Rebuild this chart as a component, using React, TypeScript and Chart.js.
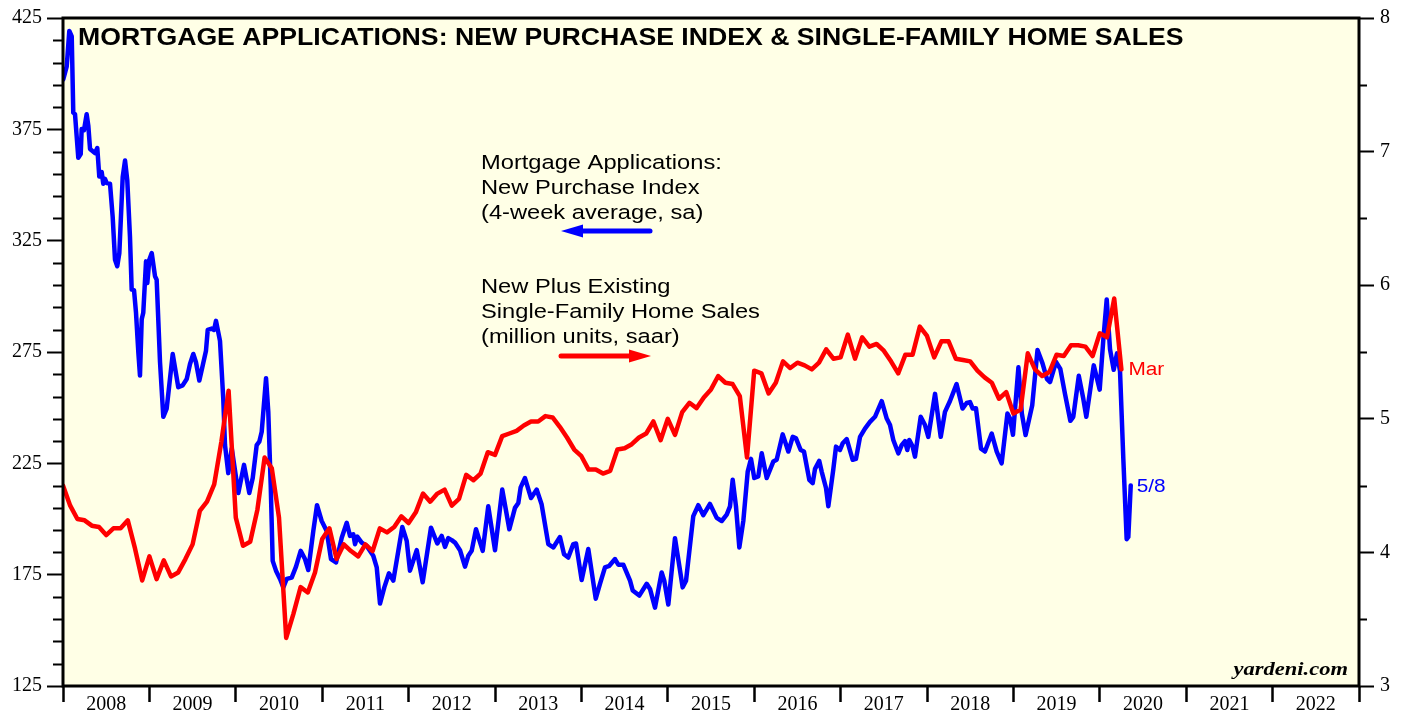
import React, { useEffect, useRef } from 'react';
import { Chart, registerables } from 'chart.js';

Chart.register(...registerables);

// ---------- DATA ----------
const yearLabels = ['2008', '2009', '2010', '2011', '2012', '2013', '2014', '2015', '2016', '2017', '2018', '2019', '2020', '2021', '2022'];
const leftMajorTicks = [125, 175, 225, 275, 325, 375, 425];
const rightMajorTicks = [3, 4, 5, 6, 7, 8];

// New plus existing single-family home sales (million units, saar), monthly from Jan 2008
const homeSalesStart = 2008;
const homeSales = [
  4.50, 4.35, 4.25, 4.24, 4.20, 4.19, 4.13, 4.18, 4.18, 4.24, 4.03, 3.79,
  3.97, 3.80, 3.94, 3.82, 3.85, 3.95, 4.06, 4.31, 4.38, 4.51, 4.83, 5.21,
  4.26, 4.05, 4.08, 4.32, 4.71, 4.63, 4.26, 3.36, 3.54, 3.74, 3.70, 3.85,
  4.10, 4.18, 3.95, 4.06, 4.01, 3.97, 4.06, 4.01, 4.18, 4.15, 4.19, 4.27,
  4.22, 4.30, 4.44, 4.38, 4.44, 4.47, 4.35, 4.40, 4.58, 4.54, 4.59, 4.75,
  4.73, 4.87, 4.89, 4.91, 4.95, 4.98, 4.98, 5.02, 5.01, 4.94, 4.86, 4.77,
  4.72, 4.62, 4.62, 4.59, 4.61, 4.77, 4.78, 4.81, 4.86, 4.89, 4.98, 4.84,
  5.00, 4.88, 5.05, 5.12, 5.08, 5.16, 5.22, 5.32, 5.27, 5.26, 5.17, 4.71,
  5.36, 5.34, 5.19, 5.27, 5.43, 5.38, 5.42, 5.40, 5.37, 5.42, 5.52, 5.45,
  5.46, 5.63, 5.45, 5.61, 5.54, 5.56, 5.51, 5.43, 5.34, 5.48, 5.48, 5.69,
  5.62, 5.46, 5.58, 5.58, 5.45, 5.44, 5.43, 5.36, 5.31, 5.27, 5.15, 5.20,
  5.04, 5.07, 5.49, 5.37, 5.32, 5.35, 5.48, 5.47, 5.55, 5.55, 5.54, 5.47,
  5.64, 5.61, 5.90, 5.37,
];

// Mortgage applications: new purchase index (4-week average, sa) — [decimal year, index]
const mortgageIndex: [number, number][] = [
  [2008.003, 397.4], [2008.043, 403.3], [2008.073, 419.2], [2008.101, 416.7], [2008.119, 382.5], [2008.139, 381.8],
  [2008.177, 362.2], [2008.205, 363.9], [2008.216, 375.1], [2008.243, 374.6], [2008.274, 381.8], [2008.293, 376.6],
  [2008.313, 366.2], [2008.370, 364.3], [2008.397, 366.6], [2008.420, 353.8], [2008.448, 355.8], [2008.466, 350.6],
  [2008.486, 352.8], [2008.506, 350.9], [2008.544, 350.6], [2008.575, 335.7], [2008.602, 316.4], [2008.628, 313.5],
  [2008.652, 319.4], [2008.691, 353.6], [2008.718, 361.0], [2008.744, 352.1], [2008.775, 326.8], [2008.795, 303.0],
  [2008.822, 302.8], [2008.845, 292.6], [2008.872, 274.8], [2008.891, 264.4], [2008.911, 289.7], [2008.929, 292.6],
  [2008.961, 315.7], [2008.976, 306.0], [2008.999, 316.4], [2009.027, 319.4], [2009.065, 309.0], [2009.084, 307.5],
  [2009.123, 270.4], [2009.161, 245.9], [2009.200, 249.6], [2009.270, 274.1], [2009.334, 259.2], [2009.385, 260.0],
  [2009.432, 262.9], [2009.470, 269.6], [2009.508, 274.1], [2009.539, 270.4], [2009.578, 262.2], [2009.617, 268.9],
  [2009.655, 275.6], [2009.675, 284.9], [2009.721, 285.5], [2009.748, 284.9], [2009.771, 289.0], [2009.817, 280.0],
  [2009.855, 254.0], [2009.875, 233.2], [2009.913, 220.6], [2009.953, 231.7], [2010.029, 211.7], [2010.095, 224.3],
  [2010.156, 211.7], [2010.196, 218.4], [2010.242, 233.2], [2010.272, 234.7], [2010.300, 239.2], [2010.350, 263.2],
  [2010.376, 248.1], [2010.404, 215.4], [2010.427, 181.2], [2010.465, 176.8], [2010.512, 173.1], [2010.550, 169.3],
  [2010.589, 173.1], [2010.647, 173.7], [2010.697, 178.6], [2010.751, 185.7], [2010.801, 182.0], [2010.839, 177.1],
  [2010.897, 194.6], [2010.940, 206.2], [2010.994, 199.1], [2011.052, 194.6], [2011.102, 182.0], [2011.160, 180.5],
  [2011.226, 191.6], [2011.284, 198.3], [2011.322, 192.4], [2011.360, 193.1], [2011.380, 188.7], [2011.406, 192.1],
  [2011.457, 189.4], [2011.515, 187.9], [2011.591, 183.5], [2011.631, 178.3], [2011.669, 162.0], [2011.719, 169.3],
  [2011.773, 175.6], [2011.823, 172.3], [2011.881, 185.7], [2011.927, 196.4], [2011.978, 190.2], [2012.016, 176.8],
  [2012.094, 186.0], [2012.163, 171.6], [2012.259, 196.1], [2012.332, 189.0], [2012.383, 192.4], [2012.421, 187.5],
  [2012.459, 191.4], [2012.499, 190.5], [2012.537, 189.4], [2012.595, 186.0], [2012.653, 178.6], [2012.691, 183.5],
  [2012.730, 185.7], [2012.780, 195.4], [2012.858, 185.7], [2012.922, 205.7], [2013.000, 186.0], [2013.084, 213.2],
  [2013.166, 195.4], [2013.231, 205.0], [2013.270, 207.2], [2013.297, 214.2], [2013.347, 218.4], [2013.417, 209.4],
  [2013.483, 213.2], [2013.540, 206.5], [2013.617, 188.7], [2013.675, 187.2], [2013.752, 191.9], [2013.799, 184.2],
  [2013.848, 182.7], [2013.906, 188.7], [2013.938, 189.0], [2014.003, 172.6], [2014.080, 186.5], [2014.166, 164.2],
  [2014.215, 170.9], [2014.273, 178.3], [2014.323, 179.0], [2014.389, 182.0], [2014.427, 179.5], [2014.485, 179.5],
  [2014.563, 172.3], [2014.594, 167.9], [2014.670, 165.6], [2014.756, 170.9], [2014.794, 168.6], [2014.852, 160.2],
  [2014.929, 176.0], [2014.959, 172.3], [2015.006, 161.6], [2015.083, 191.4], [2015.172, 169.3], [2015.211, 172.3],
  [2015.295, 201.3], [2015.353, 206.2], [2015.411, 201.7], [2015.488, 206.8], [2015.566, 200.5], [2015.624, 199.1],
  [2015.682, 202.0], [2015.720, 205.7], [2015.751, 217.6], [2015.789, 205.7], [2015.828, 187.2], [2015.874, 199.1],
  [2015.925, 221.3], [2015.963, 227.0], [2016.001, 218.4], [2016.047, 219.1], [2016.087, 229.5], [2016.145, 218.4],
  [2016.221, 225.8], [2016.260, 226.6], [2016.330, 238.0], [2016.395, 230.3], [2016.446, 236.9], [2016.484, 236.2],
  [2016.538, 231.0], [2016.576, 230.3], [2016.638, 217.6], [2016.677, 216.1], [2016.704, 222.5], [2016.753, 226.1],
  [2016.781, 221.3], [2016.831, 213.9], [2016.858, 205.7], [2016.915, 222.1], [2016.947, 232.5], [2016.993, 231.0],
  [2017.024, 234.0], [2017.071, 235.9], [2017.140, 226.6], [2017.178, 227.0], [2017.225, 236.9], [2017.282, 240.6],
  [2017.340, 243.6], [2017.398, 245.9], [2017.476, 252.9], [2017.534, 245.1], [2017.572, 242.2], [2017.610, 235.5],
  [2017.668, 229.5], [2017.707, 233.2], [2017.745, 235.0], [2017.772, 231.0], [2017.795, 235.5], [2017.834, 232.5],
  [2017.861, 228.0], [2017.927, 245.9], [2017.977, 242.2], [2018.015, 236.9], [2018.093, 256.2], [2018.159, 236.9],
  [2018.208, 248.1], [2018.266, 253.0], [2018.342, 260.6], [2018.411, 249.6], [2018.459, 252.1], [2018.498, 252.5],
  [2018.529, 249.6], [2018.567, 249.7], [2018.625, 231.6], [2018.671, 230.3], [2018.749, 238.4], [2018.807, 230.3],
  [2018.864, 225.0], [2018.931, 247.4], [2018.961, 245.1], [2018.995, 237.8], [2019.058, 268.1], [2019.098, 247.3],
  [2019.141, 237.7], [2019.218, 251.1], [2019.279, 275.9], [2019.337, 269.9], [2019.389, 262.8], [2019.424, 261.5],
  [2019.493, 270.6], [2019.543, 267.4], [2019.597, 256.2], [2019.659, 244.1], [2019.693, 245.9], [2019.757, 264.3],
  [2019.809, 254.0], [2019.844, 245.9], [2019.930, 269.0], [2019.999, 258.1], [2020.041, 280.7], [2020.080, 298.6],
  [2020.118, 276.3], [2020.161, 267.0], [2020.199, 274.4], [2020.234, 266.4], [2020.272, 227.3], [2020.311, 190.9],
  [2020.330, 191.9], [2020.358, 215.1],
];

const titleText = 'MORTGAGE APPLICATIONS: NEW PURCHASE INDEX & SINGLE-FAMILY HOME SALES';
const mortgageNote = ['Mortgage Applications:', 'New Purchase Index', '(4-week average, sa)'];
const salesNote = ['New Plus Existing', 'Single-Family Home Sales', '(million units, saar)'];
const salesEndLabel = 'Mar';
const mortgageEndLabel = '5/8';
const sourceText = 'yardeni.com';

// ---------- STYLE ----------
const BLUE = '#0000ff';
const RED = '#ff0000';
const PLOT_BG = '#ffffe6';
const SX = 1.155; // horizontal stretch of the original's lettering

function stretchedText(
  ctx: CanvasRenderingContext2D, text: string, x: number, y: number,
  font: string, color: string, align: CanvasTextAlign = 'left', sx = SX,
) {
  ctx.save();
  ctx.font = font;
  ctx.fillStyle = color;
  ctx.textBaseline = 'middle';
  ctx.textAlign = align;
  ctx.translate(x, y);
  ctx.scale(sx, 1);
  ctx.fillText(text, 0, 0);
  ctx.restore();
}

function arrow(ctx: CanvasRenderingContext2D, fromX: number, toX: number, y: number, color: string) {
  const dir = Math.sign(toX - fromX);
  const headLen = 22;
  const headHalf = 6.5;
  ctx.save();
  ctx.strokeStyle = color;
  ctx.fillStyle = color;
  ctx.lineWidth = 5;
  ctx.lineCap = 'round';
  ctx.beginPath();
  ctx.moveTo(fromX, y);
  ctx.lineTo(toX - dir * headLen * 0.8, y);
  ctx.stroke();
  ctx.beginPath();
  ctx.moveTo(toX, y);
  ctx.lineTo(toX - dir * headLen, y - headHalf);
  ctx.lineTo(toX - dir * headLen, y + headHalf);
  ctx.closePath();
  ctx.fill();
  ctx.restore();
}

const decorPlugin = {
  id: 'decor',
  beforeDraw(chart: any) {
    const { ctx, chartArea: a } = chart;
    ctx.save();
    ctx.fillStyle = PLOT_BG;
    ctx.fillRect(a.left, a.top, a.right - a.left, a.bottom - a.top);
    ctx.restore();
  },
  afterDraw(chart: any) {
    const { ctx, chartArea: a, scales } = chart;
    ctx.save();
    ctx.strokeStyle = '#000';
    ctx.lineWidth = 2;
    ctx.beginPath();
    for (const t of scales.y.ticks) {
      if (leftMajorTicks.includes(t.value)) continue;
      const p = Math.round(scales.y.getPixelForValue(t.value)) + 0.5;
      ctx.moveTo(a.left - 10, p);
      ctx.lineTo(a.left, p);
    }
    for (const t of scales.y2.ticks) {
      if (rightMajorTicks.includes(t.value)) continue;
      const p = Math.round(scales.y2.getPixelForValue(t.value)) + 0.5;
      ctx.moveTo(a.right, p);
      ctx.lineTo(a.right + 8, p);
    }
    ctx.stroke();
    ctx.lineWidth = 3;
    ctx.strokeRect(a.left, a.top, a.right - a.left, a.bottom - a.top);
    ctx.restore();

    // title
    stretchedText(ctx, titleText, a.left + 15, a.top + 20, 'bold 24px "Liberation Sans", Arial, sans-serif', '#000', 'left', 1.11);

    // notes
    const noteFont = '20.5px "Liberation Sans", Arial, sans-serif';
    mortgageNote.forEach((s, i) => stretchedText(ctx, s, a.left + 418, a.top + 145 + i * 25, noteFont, '#000'));
    arrow(ctx, a.left + 587, a.left + 498, a.top + 213, BLUE);
    salesNote.forEach((s, i) => stretchedText(ctx, s, a.left + 418, a.top + 269 + i * 25, noteFont, '#000'));
    arrow(ctx, a.left + 498, a.left + 588, a.top + 338, RED);

    // end labels anchored on the last points
    const lastSalesX = homeSalesStart + (homeSales.length - 1) / 12;
    const rx = scales.x.getPixelForValue(lastSalesX);
    const ry = scales.y2.getPixelForValue(homeSales[homeSales.length - 1]);
    stretchedText(ctx, salesEndLabel, rx + 7, ry + 1, '18px "Liberation Sans", Arial, sans-serif', RED);
    const lastM = mortgageIndex[mortgageIndex.length - 1];
    const bx = scales.x.getPixelForValue(lastM[0]);
    const by = scales.y.getPixelForValue(lastM[1]);
    stretchedText(ctx, mortgageEndLabel, bx + 6, by + 2, '18px "Liberation Sans", Arial, sans-serif', BLUE);

    // source
    stretchedText(ctx, sourceText, a.right - 11, a.bottom - 16, 'italic bold 19.5px "Liberation Serif", "Times New Roman", serif', '#000', 'right');
  },
};

const tickFont = { family: '"Liberation Serif", "Times New Roman", serif', size: 20 };

export default function App() {
  const canvasRef = useRef<HTMLCanvasElement | null>(null);

  useEffect(() => {
    const canvas = canvasRef.current;
    if (!canvas) return;

    const salesPoints = homeSales.map((v, i) => ({ x: homeSalesStart + i / 12, y: v }));
    const mortgagePoints = mortgageIndex.map(([x, y]) => ({ x, y }));

    const chart = new Chart(canvas, {
      type: 'line',
      data: {
        datasets: [
          {
            label: 'New Plus Existing Single-Family Home Sales',
            data: salesPoints,
            yAxisID: 'y2',
            borderColor: RED,
            backgroundColor: RED,
            borderWidth: 4.5,
            pointRadius: 0,
            tension: 0,
            borderJoinStyle: 'round',
            borderCapStyle: 'round',
          },
          {
            label: 'Mortgage Applications: New Purchase Index',
            data: mortgagePoints,
            yAxisID: 'y',
            borderColor: BLUE,
            backgroundColor: BLUE,
            borderWidth: 4.5,
            pointRadius: 0,
            tension: 0,
            borderJoinStyle: 'round',
            borderCapStyle: 'round',
          },
        ],
      },
      options: {
        responsive: false,
        animation: false,
        devicePixelRatio: 1,
        layout: { padding: { top: 13, left: 0, right: 0, bottom: 0 } },
        plugins: {
          legend: { display: false },
          tooltip: { enabled: false },
          title: { display: false },
        },
        scales: {
          x: {
            type: 'linear',
            min: 2008,
            max: 2023,
            afterBuildTicks: (scale: any) => {
              const t: { value: number }[] = [];
              for (let i = 0; i <= yearLabels.length; i++) {
                t.push({ value: 2008 + i });
                if (i < yearLabels.length) t.push({ value: 2008 + i + 0.5 });
              }
              scale.ticks = t;
            },
            afterFit: (scale: any) => { scale.height = 31; },
            border: { display: false },
            grid: {
              drawOnChartArea: false,
              drawTicks: true,
              tickLength: 16,
              tickWidth: 2.5,
              tickColor: (c: any) => (c.tick && Number.isInteger(c.tick.value) ? '#000' : 'rgba(0,0,0,0)'),
            },
            ticks: {
              autoSkip: false,
              maxRotation: 0,
              minRotation: 0,
              padding: -9,
              color: '#000',
              font: tickFont,
              callback: (v: any) => {
                const n = Number(v);
                if (Number.isInteger(n)) return '';
                return yearLabels[Math.floor(n) - 2008] ?? '';
              },
            },
          },
          y: {
            position: 'left',
            min: 125,
            max: 425,
            afterBuildTicks: (scale: any) => {
              const t: { value: number }[] = [];
              for (let v = 125; v <= 425; v += 10) t.push({ value: v });
              scale.ticks = t;
            },
            afterFit: (scale: any) => { scale.width = 63; },
            border: { display: false },
            grid: {
              drawOnChartArea: false,
              drawTicks: true,
              tickLength: 16,
              tickWidth: 2,
              tickColor: (c: any) => (c.tick && leftMajorTicks.includes(c.tick.value) ? '#000' : 'rgba(0,0,0,0)'),
            },
            ticks: {
              autoSkip: false,
              padding: 5,
              color: '#000',
              font: tickFont,
              callback: (v: any) => (leftMajorTicks.includes(Number(v)) ? String(v) : ''),
            },
          },
          y2: {
            position: 'right',
            min: 3,
            max: 8,
            afterBuildTicks: (scale: any) => {
              const t: { value: number }[] = [];
              for (let k = 0; k <= 10; k++) t.push({ value: 3 + k * 0.5 });
              scale.ticks = t;
            },
            afterFit: (scale: any) => { scale.width = 46; },
            border: { display: false },
            grid: {
              drawOnChartArea: false,
              drawTicks: true,
              tickLength: 15,
              tickWidth: 2,
              tickColor: (c: any) => (c.tick && rightMajorTicks.includes(c.tick.value) ? '#000' : 'rgba(0,0,0,0)'),
            },
            ticks: {
              autoSkip: false,
              padding: 6,
              color: '#000',
              font: tickFont,
              callback: (v: any) => (rightMajorTicks.includes(Number(v)) ? String(v) : ''),
            },
          },
        },
      },
      plugins: [decorPlugin],
    } as any);

    return () => chart.destroy();
  }, []);

  return (
    <div style={{ position: 'absolute', left: 0, top: 0, width: 1405, height: 717, background: '#fff' }}>
      <canvas ref={canvasRef} width={1405} height={717} style={{ width: 1405, height: 717, display: 'block' }} />
    </div>
  );
}
